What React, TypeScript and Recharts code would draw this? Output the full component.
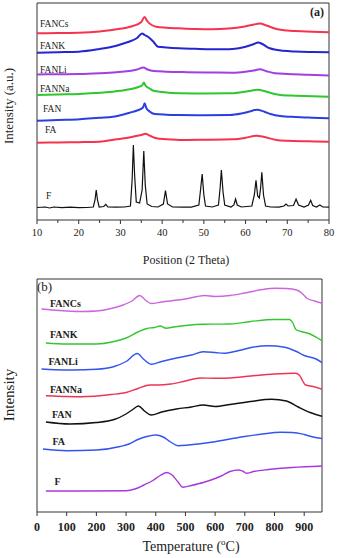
import React from 'react';
import { LineChart, Line, XAxis, YAxis, ReferenceArea } from 'recharts';

// ---------- Panel (a): XRD patterns (2θ, stacked intensity a.u.) ----------
const xrdTicks = [10, 15, 20, 25, 30, 35, 40, 45, 50, 55, 60, 65, 70, 75, 80];
const xrdFANCs = [[10,186.7],[15,187],[20,187.3],[25,188.5],[28,190],[31,192],[33,194],[35,198],[35.8,203],[36.4,199],[37.5,195],[38.6,193.3],[41,192.3],[44,191.7],[48,191],[52,190.7],[56,191.5],[59.5,193.3],[62,195.5],[63.4,196.5],[65,194.5],[67.4,191],[70,189.5],[72,189],[76,188.2],[80,187.7]];
const xrdFANK = [[10,167.3],[15,167.8],[20,168.3],[25,171],[28,173.3],[30,175.5],[32,178.3],[34,182],[35.2,186.5],[35.8,185],[36.5,183.5],[37.9,178.3],[39,173.3],[41,172.5],[44,171.7],[48,171.2],[52,170.8],[56,170.7],[58,171.5],[60,173.3],[62,176],[63,177.5],[64,176],[65.8,171.7],[69,169.3],[72,168.5],[76,168],[80,167.7]];
const xrdFANLi = [[10,145.5],[15,145.8],[20,146],[25,146.8],[29,147.8],[32,149],[34,150.5],[35.5,152.5],[36.5,150.5],[38,149],[41,148.3],[46,147.8],[52,147.5],[57,147.3],[60,148.3],[62,149.5],[63.4,150.8],[65,148.8],[67,146.8],[70,146],[75,145.3],[80,144.5]];
const xrdFANNa = [[10,125],[15,125.5],[20.3,126],[25,127.3],[28.2,128.3],[30,129.3],[32.2,130.7],[34,132.5],[35.3,135],[35.6,137.5],[36,134.5],[37,131.5],[37.9,129.3],[40,128],[44.2,126.7],[50,126.5],[56.2,126.7],[59,127.8],[61,129],[62.9,130.3],[64.5,129],[66,127],[68.3,125],[72,124.3],[76,123.8],[80,123.3]];
const xrdFAN = [[10,99.3],[15,100],[20.3,100.7],[25,102.3],[28.2,103.3],[30,104.8],[32.2,107.3],[34,109.5],[35.4,112.5],[35.8,116.7],[36.2,112],[37,108.5],[38.2,106],[41,105.3],[44.2,105],[50,104.8],[56.2,105],[59,106.5],[61,108.5],[62.7,110.2],[64.5,108.3],[66,106],[68.3,104],[72,103],[76,102.3],[80,101.7]];
const xrdFA = [[10,77.3],[15,77.5],[20,77.8],[25,78.3],[29,80.7],[31,81.8],[33,83.3],[35,85],[36,86.2],[37,84.5],[38.6,81.7],[41,80.8],[45,80],[50,80.2],[57,80.7],[60,82.2],[62.6,84.3],[64.5,83],[67.4,80],[70,79.2],[75,78.7],[80,78.3]];
const xrdF = [[10,12.5],[12,13],[13,12],[14,13],[16,12.3],[18,12.8],[20,12.3],[22,12.5],[23.5,13],[23.9,20],[24.2,30],[24.5,20],[24.9,13],[26,13.5],[26.5,15.7],[27,13],[29,12.8],[31,13],[32.4,14],[32.8,40],[33.1,75],[33.4,45],[33.8,18],[34.6,17],[35.2,30],[35.6,69],[35.95,35],[36.4,16],[37.5,13.5],[39,13],[40.3,16],[40.8,29.3],[41.3,16],[42.5,13],[45,12.8],[47,12.8],[48.8,15],[49.2,30],[49.6,46],[50,25],[50.4,14],[52,13],[53.5,15],[53.9,32],[54.2,50],[54.6,28],[55,15],[56.5,13],[57.2,15],[57.6,21],[58,15],[59,13],[61.5,14],[62.1,25],[62.5,39.7],[62.9,24],[63.3,22],[63.6,32],[63.9,47.7],[64.3,25],[64.8,14],[66,13],[68,12.8],[69.2,14],[69.7,16],[70.2,14],[71.5,14.5],[72.1,21],[72.7,15],[74,13],[75.1,15],[75.6,19.7],[76.1,14.5],[77,13],[77.8,15],[78.5,13],[80,12.8]];

// ---------- Panel (b): thermal curves (temperature °C, stacked intensity) ----------
const tempTicks = [0, 100, 200, 300, 400, 500, 600, 700, 800, 900];
const thFANCs = [[15,203],[50,202],[100,201],[155,200.5],[200,201],[250,203.5],[290,207],[320,211],[346,216.5],[365,212],[385,208.5],[420,210],[460,211.5],[500,213],[540,215.5],[565,216.5],[600,215.5],[650,216.5],[700,219],[760,222.5],[800,223.7],[840,223.5],[875,222],[895,218],[910,213.5],[935,211],[962,208.5]];
const thFANK = [[30,169],[100,168],[200,168],[260,170.5],[300,174],[340,180],[370,183.5],[395,184.5],[415,186],[435,183.8],[460,185],[500,186.5],[560,187.8],[650,188],[720,190.5],[800,192.5],[850,192.5],[862,189],[872,182.5],[890,180.5],[920,178],[945,174],[962,171]];
const thFANLi = [[15,143],[60,142.3],[120,142],[200,142.7],[260,145.5],[300,150.5],[338,158.5],[360,152.5],[385,147.7],[420,150.5],[470,154],[520,157],[560,160.3],[600,159.5],[630,158.7],[680,161.5],[730,165],[780,166.2],[830,165],[870,161],[900,156.5],[940,153],[962,149]];
const thFANNa = [[30,116.3],[100,115.5],[150,115.3],[250,117.5],[300,119.5],[340,123.5],[380,127],[410,127],[450,128],[500,131],[550,134],[600,133.8],[650,134],[720,136],[800,138],[870,138.7],[885,136.5],[895,131],[905,127],[930,125.5],[962,122.5]];
const thFAN = [[30,90],[110,88],[200,89.5],[260,92.5],[300,98],[320,102],[342,106],[362,101],[385,97],[420,100],[470,103],[520,105],[560,107],[600,105.5],[650,107.5],[720,110.5],[790,112.7],[840,111],[880,105],[920,99.5],[962,95.5]];
const thFA = [[20,63],[100,61.3],[200,62],[280,65.5],[310,68],[340,72.5],[370,75.5],[400,77],[425,75],[450,70],[475,66.3],[510,67],[593,70],[650,73],[700,75.5],[760,78],[820,79.7],[860,79.5],[900,77.5],[930,75],[962,73.5]];
const thF = [[30,21],[150,21],[300,21.3],[330,23],[360,27],[390,31.5],[415,36.5],[437,39.5],[455,37],[475,30],[492,24.7],[520,26.5],[560,29.5],[600,33.5],[620,36],[650,40.5],[680,42],[695,40.5],[705,38.7],[730,40.5],[780,42.5],[860,44.5],[962,46]];

const toPts = (a: number[][]) => a.map(([x, y]) => ({ x, y }));

const SERIF = 'Liberation Serif, Times New Roman, DejaVu Serif, serif';

const XrdTick = (props: any) => {
  const { x, y, payload } = props;
  const v = payload.value;
  const major = v % 10 === 0;
  return (
    <g>
      <line x1={x} x2={x} y1={y} y2={y + (major ? 4 : 3)} stroke="#333" strokeWidth={1} />
      {major && (
        <text x={x} y={y + 16} textAnchor="middle" style={{ fontFamily: SERIF, fontSize: 10.5 }} fill="#222">
          {v}
        </text>
      )}
    </g>
  );
};

const TempTick = (props: any) => {
  const { x, y, payload } = props;
  return (
    <g>
      <line x1={x} x2={x} y1={y} y2={y + 4} stroke="#333" strokeWidth={1} />
      <text x={x} y={y + 19} textAnchor="middle" style={{ fontFamily: SERIF, fontSize: 12, fontWeight: 'bold' }} fill="#222">
        {payload.value}
      </text>
    </g>
  );
};

const xrdSeries = [
  { name: 'FANCs', data: xrdFANCs, color: '#f5334f' },
  { name: 'FANK', data: xrdFANK, color: '#2626cf' },
  { name: 'FANLi', data: xrdFANLi, color: '#a23fe0' },
  { name: 'FANNa', data: xrdFANNa, color: '#2fc62f' },
  { name: 'FAN', data: xrdFAN, color: '#2b3fe0' },
  { name: 'FA', data: xrdFA, color: '#f5334f' },
];

const thSeries = [
  { name: 'FANCs', data: thFANCs, color: '#cc66dd' },
  { name: 'FANK', data: thFANK, color: '#33c633' },
  { name: 'FANLi', data: thFANLi, color: '#3355ee' },
  { name: 'FANNa', data: thFANNa, color: '#ee3355' },
  { name: 'FAN', data: thFAN, color: '#111111' },
  { name: 'FA', data: thFA, color: '#3355ee' },
  { name: 'F', data: thF, color: '#a838dd' },
];

const labelsA = [
  { t: 'FANCs', x: 40, y: 26.5 },
  { t: 'FANK', x: 40, y: 49.3 },
  { t: 'FANLi', x: 40, y: 72.7 },
  { t: 'FANNa', x: 40, y: 92.3 },
  { t: 'FAN', x: 43, y: 112.3 },
  { t: 'FA', x: 45, y: 133.3 },
  { t: 'F', x: 46, y: 199 },
];
const labelsB = [
  { t: 'FANCs', x: 50, y: 306.5 },
  { t: 'FANK', x: 50, y: 338.3 },
  { t: 'FANLi', x: 48.5, y: 365 },
  { t: 'FANNa', x: 50, y: 393.3 },
  { t: 'FAN', x: 52, y: 418.3 },
  { t: 'FA', x: 52.5, y: 445 },
  { t: 'F', x: 54.5, y: 485 },
];

const T = (p: any) => <text {...p} style={{ fontFamily: SERIF, ...(p.style || {}) }} />;

export default function App() {
  return (
    <div style={{ position: 'absolute', left: 0, top: 0, width: 337, height: 558, background: '#fff', fontFamily: SERIF }}>
      <div style={{ position: 'absolute', left: 0, top: 0 }}>
        <LineChart width={337} height={280} margin={{ top: 3, right: 8, left: 37, bottom: 30 }}>
          <XAxis
            dataKey="x"
            type="number"
            domain={[10, 80]}
            ticks={xrdTicks}
            allowDataOverflow
            height={30}
            axisLine={false}
            tickLine={false}
            tickSize={0}
            tickMargin={0}
            tick={<XrdTick />}
            interval={0}
          />
          <YAxis type="number" domain={[0, 217]} hide allowDataOverflow />
          {xrdSeries.map((s) => (
            <Line
              key={s.name}
              data={toPts(s.data)}
              dataKey="y"
              type="monotone"
              stroke={s.color}
              strokeWidth={2}
              dot={false}
              isAnimationActive={false}
            />
          ))}
          <Line
            data={toPts(xrdF)}
            dataKey="y"
            type="linear"
            stroke="#111"
            strokeWidth={1.2}
            dot={false}
            isAnimationActive={false}
          />
          <ReferenceArea x1={10} x2={80} y1={0} y2={217} fill="none" stroke="#333" strokeWidth={1} fillOpacity={0} />
        </LineChart>
      </div>
      <div style={{ position: 'absolute', left: 0, top: 270 }}>
        <LineChart width={337} height={288} margin={{ top: 9, right: 15, left: 37, bottom: 16 }}>
          <XAxis
            dataKey="x"
            type="number"
            domain={[0, 960]}
            ticks={tempTicks}
            allowDataOverflow
            height={30}
            axisLine={false}
            tickLine={false}
            tickSize={0}
            tickMargin={0}
            tick={<TempTick />}
            interval={0}
          />
          <YAxis type="number" domain={[0, 233]} hide allowDataOverflow />
          {thSeries.map((s) => (
            <Line
              key={s.name}
              data={toPts(s.data)}
              dataKey="y"
              type="monotone"
              stroke={s.color}
              strokeWidth={1.4}
              dot={false}
              isAnimationActive={false}
            />
          ))}
          <ReferenceArea x1={0} x2={960} y1={0} y2={233} fill="none" stroke="#333" strokeWidth={1} fillOpacity={0} />
        </LineChart>
      </div>
      <svg width={337} height={558} style={{ position: 'absolute', left: 0, top: 0, pointerEvents: 'none' }}>
        <T x={310} y={16} style={{ fontSize: 12, fontWeight: 'bold' }} fill="#222">(a)</T>
        {labelsA.map((l) => (
          <T key={'a' + l.t} x={l.x} y={l.y} style={{ fontSize: 9.5 }} fill="#222">{l.t}</T>
        ))}
        <T x={186} y={264} style={{ fontSize: 12 }} textAnchor="middle" fill="#222">Position (2 Theta)</T>
        <T transform="translate(13,106) rotate(-90)" style={{ fontSize: 13 }} textAnchor="middle" fill="#222">Intensity (a.u.)</T>

        <T x={37} y={291} style={{ fontSize: 13 }} fill="#222">(b)</T>
        {labelsB.map((l) => (
          <T key={'b' + l.t} x={l.x} y={l.y} style={{ fontSize: 10, fontWeight: 'bold' }} fill="#222">{l.t}</T>
        ))}
        <T x={191} y={551} style={{ fontSize: 14 }} textAnchor="middle" fill="#222">
          Temperature (<tspan fontSize={9} dy={-6}>o</tspan><tspan dy={6}>C)</tspan>
        </T>
        <T transform="translate(14,395) rotate(-90)" style={{ fontSize: 15 }} textAnchor="middle" fill="#222">Intensity</T>
      </svg>
    </div>
  );
}
